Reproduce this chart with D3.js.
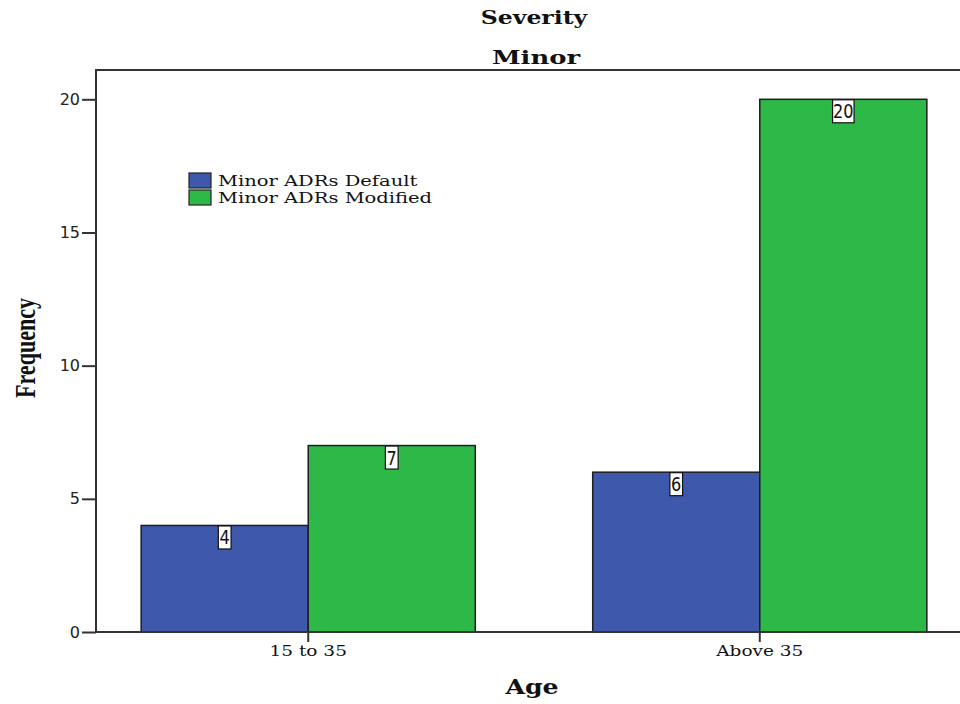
<!DOCTYPE html>
<html>
<head>
<meta charset="utf-8">
<script src="https://cdn.jsdelivr.net/npm/d3@7"></script>
<style>
  html, body { margin: 0; padding: 0; background: #fff; }
  svg { display: block; }
</style>
</head>
<body>
<svg id="chart" width="960" height="704"></svg>
<script>
// Age groups on the x axis
const categories = ["15 to 35", "Above 35"];
// Series names (legend order)
const seriesNames = ["Minor ADRs Default", "Minor ADRs Modified"];
// Frequencies per age group
const defaultValues = [4, 6];
const modifiedValues = [7, 20];
// Y tick values
const yTicks = [0, 5, 10, 15, 20];

const colors = ["#3E58AC", "#2EB848"];

const svg = d3.select("#chart");
const W = 960, H = 704;
const plotLeft = 96, plotRight = 972, plotTop = 70, plotBottom = 632;

// Widen serif text so it reads like the broad serif face of the original output
function widen(sel, k) {
  sel.each(function () {
    const w = this.getComputedTextLength();
    d3.select(this).attr("textLength", w * k).attr("lengthAdjust", "spacingAndGlyphs");
  });
}

const x = d3.scaleBand().domain(categories).range([plotLeft, plotRight])
  .paddingInner(0.26).paddingOuter(0.1);
const xs = d3.scaleBand().domain(seriesNames).range([0, x.bandwidth()]);
const y = d3.scaleLinear().domain([0, 21.1]).range([plotBottom, plotTop]);

const rows = categories.map((c, i) => ({
  cat: c,
  vals: [defaultValues[i], modifiedValues[i]]
}));

// Bars
const groups = svg.append("g").selectAll("g").data(rows).join("g")
  .attr("transform", d => `translate(${x(d.cat)},0)`);

groups.selectAll("rect").data(d => d.vals.map((v, j) => ({ v, j })))
  .join("rect")
  .attr("x", d => xs(seriesNames[d.j]))
  .attr("y", d => y(d.v))
  .attr("width", xs.bandwidth())
  .attr("height", d => y(0) - y(d.v))
  .attr("fill", d => colors[d.j])
  .attr("stroke", "#1e1e1e")
  .attr("stroke-width", 1.5);

// Frame lines: top, left, bottom
const frame = svg.append("g").attr("stroke", "#333").attr("stroke-width", 2).attr("fill", "none");
frame.append("line").attr("x1", plotLeft).attr("x2", W).attr("y1", plotTop).attr("y2", plotTop);
frame.append("line").attr("x1", plotLeft).attr("x2", plotLeft).attr("y1", plotTop - 1).attr("y2", plotBottom);
frame.append("line").attr("x1", plotLeft).attr("x2", W).attr("y1", plotBottom).attr("y2", plotBottom);

// Y axis
const yAxis = svg.append("g").attr("transform", `translate(${plotLeft},0)`)
  .call(d3.axisLeft(y).tickValues(yTicks).tickSize(14).tickPadding(2).tickFormat(d3.format("d")));
yAxis.select(".domain").remove();
yAxis.selectAll(".tick line").attr("stroke", "#333").attr("stroke-width", 2);
yAxis.selectAll(".tick text")
  .attr("font-family", "DejaVu Sans").attr("font-size", 16).attr("fill", "#222");

// X axis
const xAxis = svg.append("g").attr("transform", `translate(0,${plotBottom})`)
  .call(d3.axisBottom(x).tickSize(10).tickPadding(4));
xAxis.select(".domain").remove();
xAxis.selectAll(".tick line").attr("stroke", "#333").attr("stroke-width", 2);
xAxis.selectAll(".tick text")
  .attr("font-family", "DejaVu Serif").attr("font-size", 14).attr("fill", "#111")
  .call(widen, 1.32);

// Value labels: boxed numbers at the top of each bar
groups.each(function (d) {
  const g = d3.select(this);
  d.vals.forEach((v, j) => {
    const cx = xs(seriesNames[j]) + xs.bandwidth() / 2;
    const lab = g.append("g");
    const t = lab.append("text")
      .attr("x", cx).attr("y", y(v) + 19)
      .attr("text-anchor", "middle")
      .attr("font-family", "DejaVu Sans").attr("font-size", 19).attr("fill", "#111")
      .text(v);
    widen(t, 0.85);
    const bw = t.node().getComputedTextLength() * 0.85 + 4;
    lab.insert("rect", "text")
      .attr("x", cx - bw / 2).attr("y", y(v) + 0.5)
      .attr("width", bw).attr("height", 23)
      .attr("fill", "#fff").attr("stroke", "#111").attr("stroke-width", 1.2);
  });
});

// Titles
const cx0 = (plotLeft + plotRight) / 2;
svg.append("text").attr("x", cx0).attr("y", 24).attr("text-anchor", "middle")
  .attr("font-family", "DejaVu Serif").attr("font-weight", "bold").attr("font-size", 19)
  .attr("fill", "#111").text("Severity").call(widen, 1.24);
svg.append("text").attr("x", cx0 + 2).attr("y", 64).attr("text-anchor", "middle")
  .attr("font-family", "DejaVu Serif").attr("font-weight", "bold").attr("font-size", 19)
  .attr("fill", "#111").text("Minor").call(widen, 1.36);

// Axis titles
svg.append("text").attr("x", 532).attr("y", 694).attr("text-anchor", "middle")
  .attr("font-family", "DejaVu Serif").attr("font-weight", "bold").attr("font-size", 21)
  .attr("fill", "#111").text("Age").call(widen, 1.2);
svg.append("text").attr("transform", "translate(35,348) rotate(-90)")
  .attr("text-anchor", "middle")
  .attr("font-family", "Liberation Serif").attr("font-weight", "bold").attr("font-size", 30)
  .attr("fill", "#111").text("Frequency")
  .attr("textLength", 100).attr("lengthAdjust", "spacingAndGlyphs");

// Legend
const legend = svg.append("g").attr("transform", "translate(189,173)");
seriesNames.forEach((name, i) => {
  const row = legend.append("g").attr("transform", `translate(0,${i * 17})`);
  row.append("rect").attr("x", 0).attr("y", 0).attr("width", 22).attr("height", 15)
    .attr("fill", colors[i]).attr("stroke", "#222").attr("stroke-width", 1.2);
  row.append("text").attr("x", 29).attr("y", 13)
    .attr("font-family", "DejaVu Serif").attr("font-size", 15).attr("fill", "#111")
    .text(name).call(widen, 1.3);
});
</script>
</body>
</html>
